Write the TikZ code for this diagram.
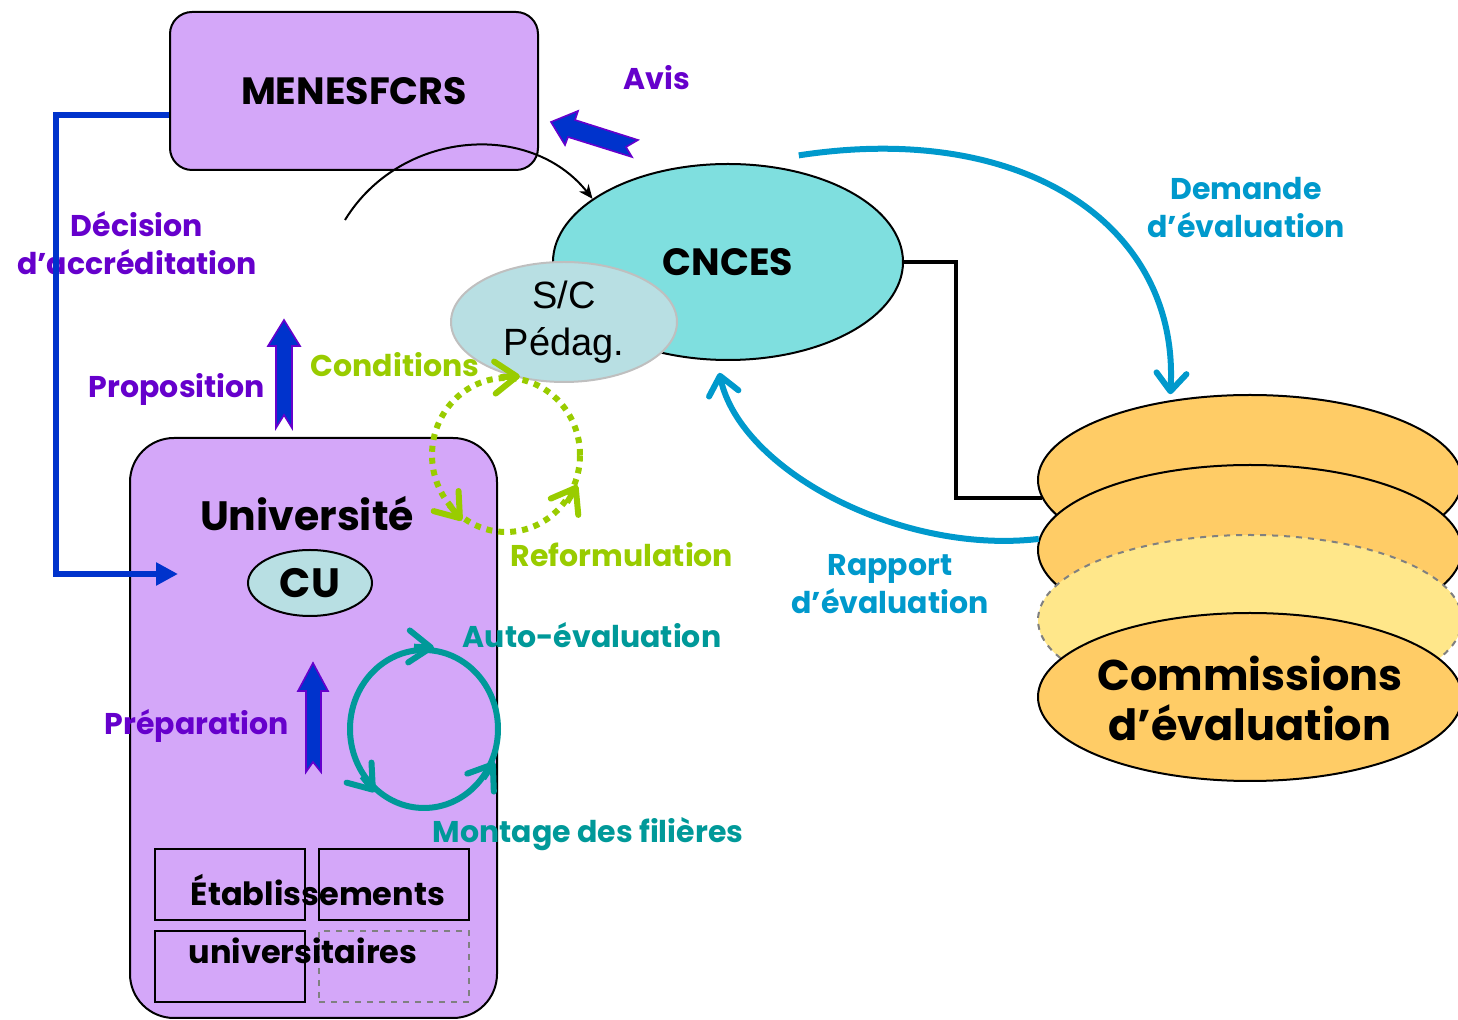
\documentclass[tikz,border=0pt]{standalone}
\usepackage{fontspec}
\setmainfont{Poppins}
\newfontfamily\arialfont{Liberation Sans}
\usepackage{tikz}
\usetikzlibrary{shapes.geometric}
\usetikzlibrary{arrows.meta}
\usetikzlibrary{positioning}

\definecolor{lilac}{RGB}{212,167,249}
\definecolor{turq}{RGB}{127,223,223}
\definecolor{paleblue}{RGB}{184,223,227}
\definecolor{violetc}{RGB}{102,0,204}
\definecolor{royal}{RGB}{0,51,204}
\definecolor{sky}{RGB}{0,153,204}
\definecolor{limec}{RGB}{153,204,0}
\definecolor{tealc}{RGB}{0,153,153}
\definecolor{apricot}{RGB}{255,204,102}
\definecolor{cream}{RGB}{255,231,138}

\begin{document}
\begin{tikzpicture}[
  x=0.5pt, y=-0.5pt,
  every node/.style={inner sep=0pt},
  box/.style={draw, line width=1pt, fill=lilac},
  oval/.style={ellipse, draw, line width=1pt},
  comm/.style={oval, fill=apricot, minimum width=212pt, minimum height=85pt},
  cell/.style={draw, line width=0.8pt, minimum width=75pt, minimum height=35.5pt},
  title/.style={font=\bfseries\fontsize{19}{23}\selectfont},
  lbl/.style={font=\bfseries\fontsize{15}{19}\selectfont, align=center},
  fatarrow/.style={fill=royal, draw=violetc, line width=0.8pt, line join=miter},
  decision/.style={royal, line width=3pt, -{Triangle[length=11pt,width=11pt]}},
  link/.style={line width=2pt},
  evalarrow/.style={sky, line width=3pt, -{Straight Barb[length=9pt,width=15pt,round]}},
  cycle tip/.style={line width=3pt, -{Straight Barb[length=11pt,width=16pt,round]}}
]
\useasboundingbox (0,0) rectangle (1458,1020);

% Nodes
\node[box, rounded corners=11pt, minimum width=184pt, minimum height=79pt] (menes) at (354,91) {};
\node[title] at (menes) {MENESFCRS};

\node[box, rounded corners=22pt, minimum width=183.5pt, minimum height=290pt] (univ) at (313.5,728) {};
\node[title, font=\bfseries\fontsize{20.5}{25}\selectfont] (univtxt) at (307,514) {Université};
\node[oval, fill=paleblue, minimum width=62pt, minimum height=33pt,
      font=\bfseries\fontsize{20.5}{25}\selectfont] (cu) at (310,583) {CU};

\node[cell] (c1) at (230,884.5) {};
\node[cell] (c2) at (394,884.5) {};
\node[cell] (c3) at (230,966.5) {};
\node[cell, draw=gray, dashed] (c4) at (394,966.5) {};
\node[font=\bfseries\fontsize{16}{20}\selectfont] (etab) at (318,890) {Établissements};
\node[font=\bfseries\fontsize{16}{20}\selectfont] (univs) at (303,951) {universitaires};

\node[oval, fill=turq, minimum width=175pt, minimum height=98pt, title] (cnces) at (728,262) {CNCES};
\node[oval, draw=gray!50, fill=paleblue, minimum width=113pt, minimum height=60pt,
      font=\arialfont\fontsize{19}{23.5}\selectfont, align=center] (sc) at (564,322) {S/C\\Pédag.};

\node[comm] (comm1) at (1250,480) {};
\node[comm] (comm2) at (1250,550) {};
\node[comm, fill=cream, draw=gray, dashed] (comm3) at (1250,620) {};
\node[comm, minimum height=84pt] (comm4) at (1250,697) {};
\node[font=\bfseries\fontsize{21.5}{25}\selectfont, align=center] (commtxt) at (1250,698) {Commissions\\d’évaluation};

% Cycles
\node[ellipse, draw=limec, line width=3pt, dash pattern=on 3pt off 3pt,
      minimum width=74pt, minimum height=77pt] (condcyc) at (506,455) {};
\node[ellipse, draw=tealc, line width=3pt,
      minimum width=74pt, minimum height=79pt] (selfcyc) at (424,729) {};

% Labels
\node[lbl, text=violetc] (avis) at (657,78) {Avis};
\node[lbl, text=violetc] (declbl) at (137,243) {Décision\\d’accréditation};
\node[lbl, text=violetc] (proplbl) at (177,389) {Proposition};
\node[lbl, text=violetc] (preplbl) at (197,726) {Préparation};
\node[lbl, text=limec] (condlbl) at (395,365) {Conditions};
\node[lbl, text=limec] (reflbl) at (622,555) {Reformulation};
\node[lbl, text=sky] (demlbl) at (1246,208) {Demande\\d’évaluation};
\node[lbl, text=sky] (raplbl) at (890,584) {Rapport\\d’évaluation};
\node[lbl, text=tealc] (autolbl) at (592,635) {Auto-évaluation};
\node[lbl, text=tealc] (montlbl) at (588,834) {Montage des filières};

\coordinate (cuin) at (178,574);
\coordinate (arcstart) at (345,220);

% Arrows
\draw[decision] ([yshift=-12pt]menes.west) -- ++(-113,0) |- (cuin);
\draw[line width=1pt, -{Stealth[length=7pt,width=6pt]}] (arcstart) .. controls (400,130) and (530,120) .. (cnces.155);
\draw[link] (cnces.east) -- ++(52,0) |- (comm1.185);
\draw[evalarrow] ([yshift=8pt]cnces.52) .. controls (1030,120) and (1180,230) .. ([yshift=3pt]comm1.135);
\draw[evalarrow] (comm2.177) .. controls (900,555) and (740,470) .. ([yshift=-6pt]cnces.265);

\draw[fatarrow] (551,122) -- (578,111) -- (575,120) -- (638,140) -- (626,147) -- (632,157) -- (568,137) -- (565,145) -- cycle;
\draw[fatarrow] (284,320) -- (300,346) -- (292,346) -- (292,428) -- (284,415) -- (276,428) -- (276,346) -- (268,346) -- cycle;
\draw[fatarrow] (313,663) -- (328,691) -- (321,691) -- (321,772) -- (313,762) -- (306,772) -- (306,691) -- (298,691) -- cycle;

\draw[cycle tip, limec] ([xshift=-10pt,yshift=-0.5pt]condcyc.80) -- (condcyc.80);
\draw[cycle tip, limec] ([xshift=-6.3pt,yshift=7.8pt]condcyc.236) -- (condcyc.236);
\draw[cycle tip, limec] ([xshift=-5.1pt,yshift=-8.6pt]condcyc.337) -- (condcyc.337);
\draw[cycle tip, tealc] ([xshift=-10pt,yshift=0.5pt]selfcyc.83) -- (selfcyc.83);
\draw[cycle tip, tealc] ([xshift=-6.3pt,yshift=7.8pt]selfcyc.232) -- (selfcyc.232);
\draw[cycle tip, tealc] ([xshift=-5.6pt,yshift=-8.3pt]selfcyc.335) -- (selfcyc.335);
\end{tikzpicture}
\end{document}
